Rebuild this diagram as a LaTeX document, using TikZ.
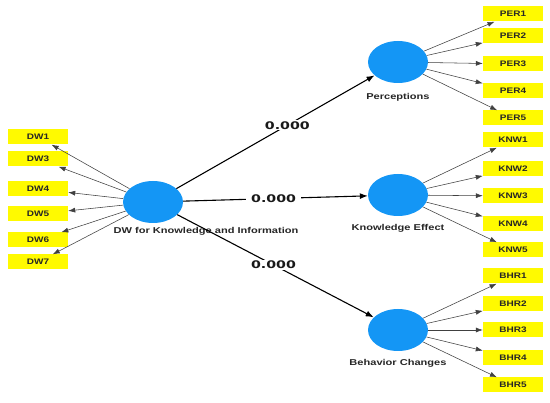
\documentclass[tikz,border=0pt]{standalone}
\usepackage{fontspec}
\setmainfont{Liberation Sans}
\newfontfamily\coeffont{DejaVu Sans}
\usepackage{tikz}
\usetikzlibrary{shapes.geometric,arrows.meta}
\definecolor{lvblue}{RGB}{20,150,245}
\definecolor{mvyellow}{RGB}{255,250,0}
\newcommand{\wide}[2][1.25]{\scalebox{#1}[1]{#2}}

\begin{document}
\begin{tikzpicture}[x=1pt,y=-1pt,
  latent/.style={ellipse,fill=lvblue,minimum width=60pt,minimum height=42pt,inner sep=0pt},
  indicator/.style={rectangle,fill=mvyellow,minimum width=60pt,minimum height=15pt,inner sep=0pt,
    text=black!85,font=\bfseries\fontsize{8}{9}\selectfont},
  lvlabel/.style={text=black!85,font=\bfseries\fontsize{8.5}{10}\selectfont,inner sep=1pt},
  outer/.style={draw=black!75,line width=0.55pt,-{Latex[length=7pt,width=5pt]}},
  structural/.style={draw=black,line width=1.1pt,-{Latex[length=8pt,width=6pt]}},
  coef/.style={fill=white,inner xsep=5pt,inner ysep=1pt,text=black!90,font=\coeffont\bfseries\fontsize{10.5}{12}\selectfont}]
\useasboundingbox[fill=white] (0,0) rectangle (550,403);
% Drawing latent variables
\node[latent] (dw) at (153,202) {};
\node[latent] (per) at (398,62) {};
\node[latent] (knw) at (398,195) {};
\node[latent] (bhr) at (398,330) {};
\node[lvlabel] (dwlab) at (206,231) {\wide[1.3]{DW for Knowledge and Information}};
\node[lvlabel] (perlab) at (398,97) {\wide[1.3]{Perceptions}};
\node[lvlabel] (knwlab) at (398,228) {\wide[1.3]{Knowledge Effect}};
\node[lvlabel] (bhrlab) at (398,363) {\wide[1.3]{Behavior Changes}};
% Done with latent variables; drawing indicators
% Block 1: DW
\node[indicator] (dw1) at (38,137) {\wide{DW1}};
\node[indicator] (dw3) at (38,159) {\wide{DW3}};
\node[indicator] (dw4) at (38,189) {\wide{DW4}};
\node[indicator] (dw5) at (38,214) {\wide{DW5}};
\node[indicator] (dw6) at (38,240) {\wide{DW6}};
\node[indicator] (dw7) at (38,262) {\wide{DW7}};
% Block 2: PER
\node[indicator] (per1) at (513,14) {\wide{PER1}};
\node[indicator] (per2) at (513,36) {\wide{PER2}};
\node[indicator] (per3) at (513,64) {\wide{PER3}};
\node[indicator] (per4) at (513,91) {\wide{PER4}};
\node[indicator] (per5) at (513,118) {\wide{PER5}};
% Block 3: KNW
\node[indicator] (knw1) at (513,140) {\wide{KNW1}};
\node[indicator] (knw2) at (513,169) {\wide{KNW2}};
\node[indicator] (knw3) at (513,196) {\wide{KNW3}};
\node[indicator] (knw4) at (513,224) {\wide{KNW4}};
\node[indicator] (knw5) at (513,250) {\wide{KNW5}};
% Block 4: BHR
\node[indicator] (bhr1) at (513,276) {\wide{BHR1}};
\node[indicator] (bhr2) at (513,304) {\wide{BHR2}};
\node[indicator] (bhr3) at (513,330) {\wide{BHR3}};
\node[indicator] (bhr4) at (513,358) {\wide{BHR4}};
\node[indicator] (bhr5) at (513,385) {\wide{BHR5}};
% Done with indicators; drawing loadings
\draw[outer] (dw) -- (dw1);
\draw[outer] (dw) -- (dw3);
\draw[outer] (dw) -- (dw4);
\draw[outer] (dw) -- (dw5);
\draw[outer] (dw) -- (dw6);
\draw[outer] (dw) -- (dw7);
\draw[outer] (per) -- (per1);
\draw[outer] (per) -- (per2);
\draw[outer] (per) -- (per3);
\draw[outer] (per) -- (per4);
\draw[outer] (per) -- (per5);
\draw[outer] (knw) -- (knw1);
\draw[outer] (knw) -- (knw2);
\draw[outer] (knw) -- (knw3);
\draw[outer] (knw) -- (knw4);
\draw[outer] (knw) -- (knw5);
\draw[outer] (bhr) -- (bhr1);
\draw[outer] (bhr) -- (bhr2);
\draw[outer] (bhr) -- (bhr3);
\draw[outer] (bhr) -- (bhr4);
\draw[outer] (bhr) -- (bhr5);
% Done with loadings; drawing path coefficients
\draw[structural] (dw) -- node[coef,pos=0.56] (c1) {\wide[1.35]{0.000}} (per);
\draw[structural] (dw) -- node[coef,pos=0.49] (c2) {\wide[1.35]{0.000}} (knw);
\draw[structural] (dw) -- node[coef,pos=0.49] (c3) {\wide[1.35]{0.000}} (bhr);
% Done with path coefficients
\end{tikzpicture}
\end{document}
